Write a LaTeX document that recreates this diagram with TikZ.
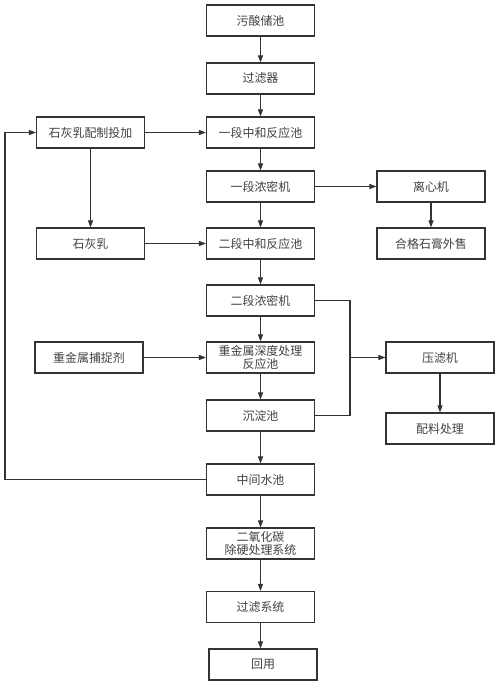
\documentclass[tikz,border=0pt]{standalone}
\usepackage{fontspec}
\newfontfamily\cjk{Noto Sans CJK SC}
\usetikzlibrary{arrows.meta}

\begin{document}
\begin{tikzpicture}[
	procbox/.style={shape=rectangle, draw=black!80, line width=0.6pt, minimum width=2.16cm, minimum height=0.62cm, inner sep=1pt, align=center, text=black!75, font=\cjk\fontsize{6.8}{7.6}\selectfont},
	flow/.style={draw=black!80, line width=0.6pt, -{Triangle[length=0.14cm, width=0.1cm]}},
	wire/.style={draw=black!80, line width=0.6pt}]
	\useasboundingbox (0,0) rectangle (10,13.72);
	% Paths, nodes and wires:
	% main column
	\node[procbox] (acid) at (5.21, 13.31){污酸储池};
	\node[procbox] (filter) at (5.21, 12.15){过滤器};
	\node[procbox] (neutA) at (5.21, 11.07){一段中和反应池};
	\node[procbox] (thickA) at (5.21, 9.99){一段浓密机};
	\node[procbox] (neutB) at (5.21, 8.85){二段中和反应池};
	\node[procbox] (thickB) at (5.21, 7.71){二段浓密机};
	\node[procbox] (heavy) at (5.21, 6.57){重金属深度处理\\反应池};
	\node[procbox] (settle) at (5.21, 5.41){沉淀池};
	\node[procbox] (midpool) at (5.21, 4.13){中间水池};
	\node[procbox] (cotwo) at (5.21, 2.85){二氧化碳\\除硬处理系统};
	\node[procbox] (filtsys) at (5.21, 1.58){过滤系统};
	\node[procbox] (reuse) at (5.26, 0.43){回用};
	% left column
	\node[procbox] (limeprep) at (1.81, 11.07){石灰乳配制投加};
	\node[procbox] (lime) at (1.81, 8.85){石灰乳};
	\node[procbox] (catcher) at (1.78, 6.57){重金属捕捉剂};
	% right column
	\node[procbox] (centri) at (8.62, 9.99){离心机};
	\node[procbox] (gypsum) at (8.62, 8.85){合格石膏外售};
	\node[procbox] (press) at (8.80, 6.57){压滤机};
	\node[procbox] (batch) at (8.80, 5.15){配料处理};
	\coordinate (branch) at (7.00, 6.57);
	\coordinate (loop) at (0.10, 11.07);

	\draw[flow] (acid) -- (filter);
	\draw[flow] (filter) -- (neutA);
	\draw[flow] (neutA) -- (thickA);
	\draw[flow] (thickA) -- (neutB);
	\draw[flow] (neutB) -- (thickB);
	\draw[flow] (thickB) -- (heavy);
	\draw[flow] (heavy) -- (settle);
	\draw[flow] (settle) -- (midpool);
	\draw[flow] (midpool) -- (cotwo);
	\draw[flow] (cotwo) -- (filtsys);
	\draw[flow] (filtsys) -- (filtsys |- reuse.north);
	\draw[flow] (limeprep) -- (neutA);
	\draw[flow] (limeprep) -- (lime);
	\draw[flow] (lime) -- (neutB);
	\draw[flow] (catcher) -- (heavy);
	\draw[flow] (thickA) -- (centri);
	\draw[flow] (centri) -- (gypsum);
	\draw[flow] (press) -- (batch);
	% slurry to filter press
	\draw[wire] (thickB.east) -| (branch) |- (settle.east);
	\draw[flow] (branch) -- (press);
	% return water loop
	\draw[wire] (midpool.west) -| (loop);
	\draw[flow] (loop) -- (limeprep);
\end{tikzpicture}
\end{document}
